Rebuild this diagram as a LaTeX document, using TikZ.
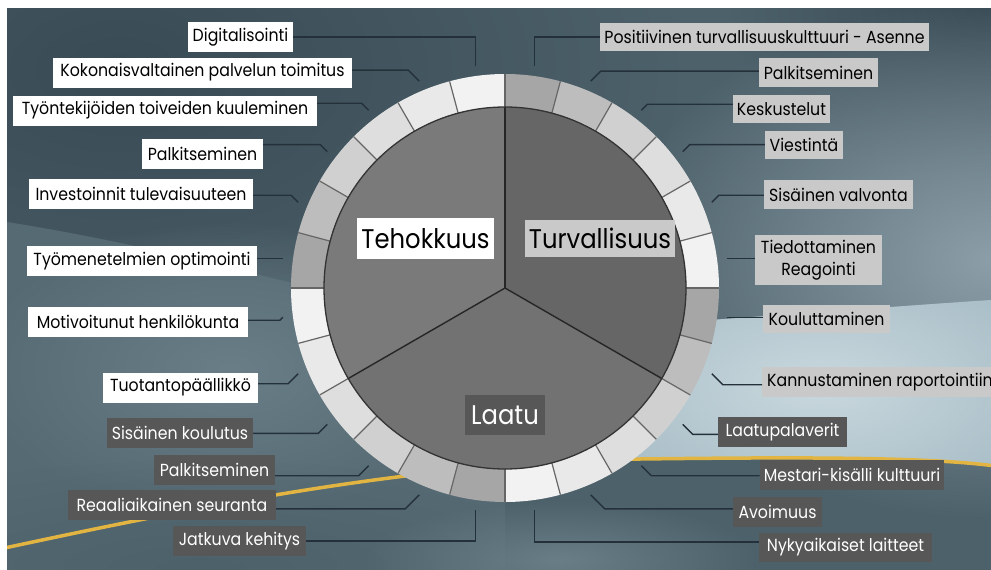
\documentclass[tikz,border=0pt]{standalone}
\usepackage{fontspec}
\setmainfont{Poppins}[FakeStretch=0.9]
\usetikzlibrary{calc,fadings}
\definecolor{bgbase}{HTML}{4D616B}
\definecolor{bgdark}{HTML}{394B55}
\definecolor{bgmid}{HTML}{566A74}
\definecolor{bgglowL}{HTML}{6A7E88}
\definecolor{bgright}{HTML}{8C9FA8}
\definecolor{bglight}{HTML}{A3B9C3}
\definecolor{bgglow}{HTML}{C9D8DE}
\definecolor{gold}{HTML}{E2B441}
\definecolor{seg0}{HTML}{F2F2F2}
\definecolor{seg1}{HTML}{E9E9E9}
\definecolor{seg2}{HTML}{DEDEDE}
\definecolor{seg3}{HTML}{D0D0D0}
\definecolor{seg4}{HTML}{BDBDBD}
\definecolor{seg5}{HTML}{A6A6A6}
\definecolor{pieA}{HTML}{7A7A7A}
\definecolor{pieB}{HTML}{666666}
\definecolor{pieC}{HTML}{727272}
\definecolor{lblgray}{HTML}{C9C9C9}
\definecolor{lbldark}{HTML}{575757}
\definecolor{connc}{HTML}{24313A}
\pgfdeclareradialshading{softsh}{\pgfpointorigin}{color(0bp)=(pgftransparent!0); color(25bp)=(pgftransparent!100); color(50bp)=(pgftransparent!100)}
\pgfdeclarefading{softfade}{\pgfuseshading{softsh}}
\begin{document}
\begin{tikzpicture}[x=1pt,y=-1pt,
  lbl/.style={inner xsep=4pt, inner ysep=0pt, minimum height=30, font=\fontsize{17.5}{20}\selectfont},
  wlbl/.style={lbl, fill=white, text=black},
  glbl/.style={lbl, fill=lblgray, text=black},
  dlbl/.style={lbl, fill=lbldark, text=white},
  bigl/.style={inner xsep=4pt, inner ysep=0pt, font=\fontsize{27}{30}\selectfont},
  conn/.style={draw=connc, line width=1.4pt},
  sepline/.style={draw=black!60, line width=1.2pt},
  pieline/.style={draw=black!85, line width=1.4pt}]
\useasboundingbox (0,0) rectangle (991,570);
\fill[white] (0,0) rectangle (991,570);
\begin{scope}
  \clip (7,8) rectangle (991,570);
  \fill[bgbase] (7,8) rectangle (991,570);
  \fill[bgdark, path fading=softfade] (120,70) ellipse [x radius=560, y radius=330];
  \fill[bgdark, path fading=softfade] (991,8) ellipse [x radius=260, y radius=170];
  \fill[bgright, path fading=softfade] (991,260) ellipse [x radius=380, y radius=260];
  \fill[bgmid] (7,222) .. controls (120,240) and (220,265) .. (320,290) -- (505,340) -- (505,570) -- (7,570) -- cycle;
  \fill[bgglowL, path fading=softfade] (230,370) ellipse [x radius=260, y radius=150];
  \fill[bgbase, path fading=softfade] (200,570) ellipse [x radius=420, y radius=110];
  \fill[bgglowL, path fading=softfade] (560,560) ellipse [x radius=200, y radius=60];
  \begin{scope}
    \clip (680,322) .. controls (800,314) and (900,306) .. (991,300) -- (991,466) .. controls (930,458) and (800,457) .. (630,460) -- cycle;
    \fill[bglight] (600,290) rectangle (991,470);
    \fill[bgglow, path fading=softfade] (820,385) ellipse [x radius=300, y radius=150];
  \end{scope}
  \draw[gold, line width=3.5pt] (0,549) .. controls (200,506) and (420,462) .. (640,459) .. controls (800,457) and (930,457) .. (995,466);
\end{scope}
\coordinate (O) at (505,288);
% ring
\foreach \k in {0,...,23}{
  \pgfmathtruncatemacro{\m}{mod(\k,6)}
  \pgfmathsetmacro{\a}{-15*\k}
  \pgfmathsetmacro{\b}{-15*\k-15}
  \fill[seg\m] ($(O)+(\a:214)$) arc[start angle=\a, end angle=\b, radius=214] -- ($(O)+(\b:181)$) arc[start angle=\b, end angle=\a, radius=181] -- cycle;
}
\foreach \k in {0,...,23}{
  \draw[sepline] ($(O)+({-15*\k}:181)$) -- ($(O)+({-15*\k}:214)$);
}
% pie
\fill[pieB] (O) -- ($(O)+(30:181)$) arc[start angle=30, end angle=-90, radius=181] -- cycle;
\fill[pieA] (O) -- ($(O)+(-90:181)$) arc[start angle=-90, end angle=-210, radius=181] -- cycle;
\fill[pieC] (O) -- ($(O)+(-210:181)$) arc[start angle=-210, end angle=-330, radius=181] -- cycle;
\draw[pieline] (O) -- ($(O)+(-90:181)$);
\draw[pieline] (O) -- ($(O)+(-210:181)$);
\draw[pieline] (O) -- ($(O)+(-330:181)$);
\draw[draw=black!80, line width=1.3pt] (O) circle[radius=181];
% centre labels
\node[bigl, fill=white, text=black, minimum width=135, minimum height=41] (T) at (425.5,238.5) {Tehokkuus};
\node[bigl, fill=lblgray, text=black, minimum width=136, minimum height=37] (S) at (600,238.5) {Turvallisuus};
\node[bigl, fill=lbldark, text=white, minimum width=80, minimum height=40] (Q) at (505,415) {Laatu};
% connector end points
\foreach \i/\ang in {1/97.5,2/112.5,3/127.5,4/142.5,5/157.5,6/172.5,7/187.5,8/202.5,9/217.5,10/232.5,11/247.5,12/262.5,13/82.5,14/67.5,15/52.5,16/37.5,17/22.5,18/7.5,19/-7.5,20/-22.5,21/-37.5,22/-52.5,23/-67.5,24/-82.5}{
  \coordinate (E\i) at ($(O)+({-\ang}:224)$);
}
% labels
\begin{scope}
\clip (0,0) rectangle (991,570);
\node[wlbl, minimum width=105] (L1) at (240.5,37) {Digitalisointi};
\node[wlbl, minimum width=299] (L2) at (202.5,72.5) {Kokonaisvaltainen palvelun toimitus};
\node[wlbl, minimum width=304] (L3) at (165,110.5) {Työntekijöiden toiveiden kuuleminen};
\node[wlbl, minimum width=121] (L4) at (202.5,153.5) {Palkitseminen};
\node[wlbl, minimum width=224] (L5) at (141,193.5) {Investoinnit tulevaisuuteen};
\node[wlbl, minimum width=230] (L6) at (142,261) {Työmenetelmien optimointi};
\node[wlbl, minimum width=220] (L7) at (138,322) {Motivoitunut henkilökunta};
\node[wlbl, minimum width=155] (L8) at (180.5,387.5) {Tuotantopäällikkö};
\node[dlbl, minimum width=146] (L9) at (180,433) {Sisäinen koulutus};
\node[dlbl, minimum width=121] (L10) at (214.5,470) {Palkitseminen};
\node[dlbl, minimum width=208] (L11) at (172,505) {Reaaliaikainen seuranta};
\node[dlbl, minimum width=133] (L12) at (239.5,541) {Jatkuva kehitys};
\node[glbl, minimum width=323, minimum height=28] (L13) at (764.5,37) {Positiivinen turvallisuuskulttuuri - Asenne};
\node[glbl, minimum width=119, minimum height=29] (L14) at (818.5,72.5) {Palkitseminen};
\node[glbl, minimum width=97, minimum height=28] (L15) at (781.5,109) {Keskustelut};
\node[glbl, minimum width=78, minimum height=28] (L16) at (804,145) {Viestintä};
\node[glbl, minimum width=149, minimum height=29] (L17) at (838.5,194.5) {Sisäinen valvonta};
\node[glbl, minimum width=127, minimum height=50, align=center, font=\fontsize{17.5}{22}\selectfont] (L18) at (818.5,260) {Tiedottaminen\\Reagointi};
\node[glbl, minimum width=127, minimum height=28] (L19) at (826.5,319) {Kouluttaminen};
\node[glbl, anchor=west, inner xsep=5pt] (L20) at (762,382) {Kannustaminen raportointiin};
\node[dlbl, minimum width=129] (L21) at (782.5,432) {Laatupalaverit};
\node[dlbl, minimum width=180] (L22) at (852,475) {Mestari-kisälli kulttuuri};
\node[dlbl, minimum width=89] (L23) at (777.5,512) {Avoimuus};
\node[dlbl, minimum width=173, minimum height=29] (L24) at (845.5,547.5) {Nykyaikaiset laitteet};
\end{scope}
% connectors
\draw[conn] (E1) |- (L1.east);
\draw[conn] (E2) -- ++(-11,-11) coordinate (b2) -- (b2 -| L2.east);
\draw[conn] (E3) -- ++(-7,-7) coordinate (b3) -- (b3 -| L3.east);
\draw[conn] (E4) -- ++(-7,-7) coordinate (b4) -- (b4 -| L4.east);
\draw[conn] (E5) -- ++(-7,-7) coordinate (b5) -- (b5 -| L5.east);
\draw[conn] (E6) -- (E6 -| L6.east);
\draw[conn] (E7) -- ++(-3,3) coordinate (b7) -- (b7 -| L7.east);
\draw[conn] (E8) -- ++(-10,10) coordinate (b8) -- (b8 -| L8.east);
\draw[conn] (E9) -- ++(-9,9) coordinate (b9) -- (b9 -| L9.east);
\draw[conn] (E10) -- ++(-10,10) coordinate (b10) -- (b10 -| L10.east);
\draw[conn] (E11) -- ++(-14,14) coordinate (b11) -- (b11 -| L11.east);
\draw[conn] (E12) -- ++(0,31) coordinate (b12) -- (b12 -| L12.east);
\draw[conn] (E13) |- (L13.west);
\draw[conn] (E14) -- ++(10,-10) coordinate (b14) -- (b14 -| L14.west);
\draw[conn] (E15) -- ++(6,-6) coordinate (b15) -- (b15 -| L15.west);
\draw[conn] (E16) -- ++(7,-7) coordinate (b16) -- (b16 -| L16.west);
\draw[conn] (E17) -- ++(7,-7) coordinate (b17) -- (b17 -| L17.west);
\draw[conn] (E18) -- (E18 -| L18.west);
\draw[conn] (E19) -- (E19 -| L19.west);
\draw[conn] (E20) -- ++(11,11) coordinate (b20) -- (b20 -| L20.west);
\draw[conn] (E21) -- ++(10,10) coordinate (b21) -- (b21 -| L21.west);
\draw[conn] (E22) -- ++(10,10) coordinate (b22) -- (b22 -| L22.west);
\draw[conn] (E23) -- ++(14,14) coordinate (b23) -- (b23 -| L23.west);
\draw[conn] (E24) -- ++(0,32) coordinate (b24) -- (b24 -| L24.west);
\end{tikzpicture}
\end{document}
